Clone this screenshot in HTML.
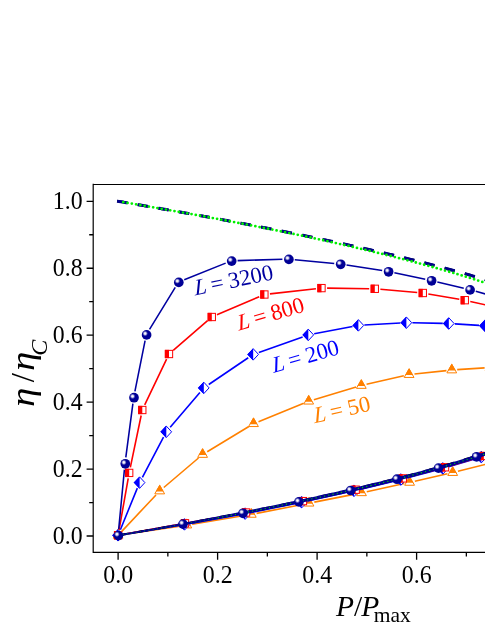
<!DOCTYPE html>
<html><head><meta charset="utf-8"><title>chart</title>
<style>html,body{margin:0;padding:0;background:#fff}body{width:485px;height:628px;position:relative;overflow:hidden;font-family:"Liberation Serif",serif}</style>
</head><body>
<svg width="485" height="628" viewBox="0 0 485 628" style="position:absolute;left:0;top:0;will-change:transform">
<defs><radialGradient id="bg" cx="0.5" cy="0.5" r="0.5"><stop offset="0" stop-color="#fff" stop-opacity="1"/><stop offset="0.35" stop-color="#fff" stop-opacity="0.9"/><stop offset="0.7" stop-color="#fff" stop-opacity="0.35"/><stop offset="1" stop-color="#fff" stop-opacity="0"/></radialGradient></defs>
<rect width="485" height="628" fill="#fff"/>
<path d="M121.8 531.36L156 494.94M163.81 487.5L198.49 458M207.22 451.7L248.88 426.5M258.5 421.66L303.7 403.24M313.87 399.66L356.13 387.04M366.56 384.3L403.84 375.8M414.47 374.02L446.43 370.58M457.19 369.65L484.61 367.85" stroke="#ff8000" stroke-width="1.6" fill="none"/>
<path d="M123.44 534.51L181.46 525.89M192.13 524.22L245.97 515.28M256.6 513.37L303.7 504.23M314.3 502.15L356.2 493.85M366.78 491.66L404.32 483.54M414.87 481.2L447.43 473.8M457.94 471.29L486.76 464.11" stroke="#ff8000" stroke-width="1.6" fill="none"/>
<path d="M159.7 485.3L164.6 493.85L154.8 493.85Z" fill="#fff" stroke="#ff8000" stroke-width="1" stroke-linejoin="miter"/><path d="M159.7 484.5L163.65 491.45L155.75 491.45Z" fill="#ff8000"/>
<path d="M202.6 448.8L207.5 457.35L197.7 457.35Z" fill="#fff" stroke="#ff8000" stroke-width="1" stroke-linejoin="miter"/><path d="M202.6 448L206.55 454.95L198.65 454.95Z" fill="#ff8000"/>
<path d="M253.5 418L258.4 426.55L248.6 426.55Z" fill="#fff" stroke="#ff8000" stroke-width="1" stroke-linejoin="miter"/><path d="M253.5 417.2L257.45 424.15L249.55 424.15Z" fill="#ff8000"/>
<path d="M308.7 395.5L313.6 404.05L303.8 404.05Z" fill="#fff" stroke="#ff8000" stroke-width="1" stroke-linejoin="miter"/><path d="M308.7 394.7L312.65 401.65L304.75 401.65Z" fill="#ff8000"/>
<path d="M361.3 379.8L366.2 388.35L356.4 388.35Z" fill="#fff" stroke="#ff8000" stroke-width="1" stroke-linejoin="miter"/><path d="M361.3 379L365.25 385.95L357.35 385.95Z" fill="#ff8000"/>
<path d="M409.1 368.9L414 377.45L404.2 377.45Z" fill="#fff" stroke="#ff8000" stroke-width="1" stroke-linejoin="miter"/><path d="M409.1 368.1L413.05 375.05L405.15 375.05Z" fill="#ff8000"/>
<path d="M451.8 364.3L456.7 372.85L446.9 372.85Z" fill="#fff" stroke="#ff8000" stroke-width="1" stroke-linejoin="miter"/><path d="M451.8 363.5L455.75 370.45L447.85 370.45Z" fill="#ff8000"/>
<path d="M490 361.8L494.9 370.35L485.1 370.35Z" fill="#fff" stroke="#ff8000" stroke-width="1" stroke-linejoin="miter"/><path d="M490 361L493.95 367.95L486.05 367.95Z" fill="#ff8000"/>
<path d="M186.8 519.4L191.7 527.95L181.9 527.95Z" fill="#fff" stroke="#ff8000" stroke-width="1" stroke-linejoin="miter"/><path d="M186.8 518.6L190.75 525.55L182.85 525.55Z" fill="#ff8000"/>
<path d="M251.3 508.7L256.2 517.25L246.4 517.25Z" fill="#fff" stroke="#ff8000" stroke-width="1" stroke-linejoin="miter"/><path d="M251.3 507.9L255.25 514.85L247.35 514.85Z" fill="#ff8000"/>
<path d="M309 497.5L313.9 506.05L304.1 506.05Z" fill="#fff" stroke="#ff8000" stroke-width="1" stroke-linejoin="miter"/><path d="M309 496.7L312.95 503.65L305.05 503.65Z" fill="#ff8000"/>
<path d="M361.5 487.1L366.4 495.65L356.6 495.65Z" fill="#fff" stroke="#ff8000" stroke-width="1" stroke-linejoin="miter"/><path d="M361.5 486.3L365.45 493.25L357.55 493.25Z" fill="#ff8000"/>
<path d="M409.6 476.7L414.5 485.25L404.7 485.25Z" fill="#fff" stroke="#ff8000" stroke-width="1" stroke-linejoin="miter"/><path d="M409.6 475.9L413.55 482.85L405.65 482.85Z" fill="#ff8000"/>
<path d="M452.7 466.9L457.6 475.45L447.8 475.45Z" fill="#fff" stroke="#ff8000" stroke-width="1" stroke-linejoin="miter"/><path d="M452.7 466.1L456.65 473.05L448.75 473.05Z" fill="#ff8000"/>
<path d="M492 457.1L496.9 465.65L487.1 465.65Z" fill="#fff" stroke="#ff8000" stroke-width="1" stroke-linejoin="miter"/><path d="M492 456.3L495.95 463.25L488.05 463.25Z" fill="#ff8000"/>
<path d="M118.1 529.6L123 538.15L113.2 538.15Z" fill="#fff" stroke="#ff8000" stroke-width="1" stroke-linejoin="miter"/><path d="M118.1 528.8L122.05 535.75L114.15 535.75Z" fill="#ff8000"/>
<path d="M120.37 529.74L137.33 488.16M142.39 477.29L163.51 437.11M170.2 427.24L199.9 392.46M208.77 384.53L248.23 357.77M258.86 352.4L302.64 336.9M314.19 333.78L352.51 326.52M364.39 325.06L400.41 323.04M412.4 322.81L442.8 323.39M454.79 323.88L479.01 325.42M490.97 326.44L509.03 328.36" stroke="#0000ff" stroke-width="1.6" fill="none"/>
<path d="M124.02 534.33L178.58 525.37M190.41 523.35L239.27 514.65M251.05 512.41L295.82 503.39M307.56 500.92L348.22 492.08M359.91 489.39L395.07 480.91M406.7 477.97L437.07 469.93M448.62 466.71L475.64 458.79M487.13 455.33L509.74 448.37" stroke="#0000ff" stroke-width="1.6" fill="none"/>
<path d="M118.1 529.6L123.4 535.3L118.1 541L112.8 535.3Z" fill="#fff" stroke="#0000ff" stroke-width="1"/><path d="M118.1 529.1L112.2 535.3L118.1 541.5Z" fill="#0000ff"/>
<path d="M139.6 476.9L144.9 482.6L139.6 488.3L134.3 482.6Z" fill="#fff" stroke="#0000ff" stroke-width="1"/><path d="M139.6 476.4L133.7 482.6L139.6 488.8Z" fill="#0000ff"/>
<path d="M166.3 426.1L171.6 431.8L166.3 437.5L161 431.8Z" fill="#fff" stroke="#0000ff" stroke-width="1"/><path d="M166.3 425.6L160.4 431.8L166.3 438Z" fill="#0000ff"/>
<path d="M203.8 382.2L209.1 387.9L203.8 393.6L198.5 387.9Z" fill="#fff" stroke="#0000ff" stroke-width="1"/><path d="M203.8 381.7L197.9 387.9L203.8 394.1Z" fill="#0000ff"/>
<path d="M253.2 348.7L258.5 354.4L253.2 360.1L247.9 354.4Z" fill="#fff" stroke="#0000ff" stroke-width="1"/><path d="M253.2 348.2L247.3 354.4L253.2 360.6Z" fill="#0000ff"/>
<path d="M308.3 329.2L313.6 334.9L308.3 340.6L303 334.9Z" fill="#fff" stroke="#0000ff" stroke-width="1"/><path d="M308.3 328.7L302.4 334.9L308.3 341.1Z" fill="#0000ff"/>
<path d="M358.4 319.7L363.7 325.4L358.4 331.1L353.1 325.4Z" fill="#fff" stroke="#0000ff" stroke-width="1"/><path d="M358.4 319.2L352.5 325.4L358.4 331.6Z" fill="#0000ff"/>
<path d="M406.4 317L411.7 322.7L406.4 328.4L401.1 322.7Z" fill="#fff" stroke="#0000ff" stroke-width="1"/><path d="M406.4 316.5L400.5 322.7L406.4 328.9Z" fill="#0000ff"/>
<path d="M448.8 317.8L454.1 323.5L448.8 329.2L443.5 323.5Z" fill="#fff" stroke="#0000ff" stroke-width="1"/><path d="M448.8 317.3L442.9 323.5L448.8 329.7Z" fill="#0000ff"/>
<path d="M485 320.1L490.3 325.8L485 331.5L479.7 325.8Z" fill="#fff" stroke="#0000ff" stroke-width="1"/><path d="M485 319.6L479.1 325.8L485 332Z" fill="#0000ff"/>
<path d="M184.5 518.7L189.8 524.4L184.5 530.1L179.2 524.4Z" fill="#fff" stroke="#0000ff" stroke-width="1"/><path d="M184.5 518.2L178.6 524.4L184.5 530.6Z" fill="#0000ff"/>
<path d="M245.17 507.9L250.47 513.6L245.17 519.3L239.87 513.6Z" fill="#fff" stroke="#0000ff" stroke-width="1"/><path d="M245.17 507.4L239.27 513.6L245.17 519.8Z" fill="#0000ff"/>
<path d="M301.7 496.5L307 502.2L301.7 507.9L296.4 502.2Z" fill="#fff" stroke="#0000ff" stroke-width="1"/><path d="M301.7 496L295.8 502.2L301.7 508.4Z" fill="#0000ff"/>
<path d="M354.08 485.1L359.38 490.8L354.08 496.5L348.78 490.8Z" fill="#fff" stroke="#0000ff" stroke-width="1"/><path d="M354.08 484.6L348.18 490.8L354.08 497Z" fill="#0000ff"/>
<path d="M400.9 473.8L406.2 479.5L400.9 485.2L395.6 479.5Z" fill="#fff" stroke="#0000ff" stroke-width="1"/><path d="M400.9 473.3L395 479.5L400.9 485.7Z" fill="#0000ff"/>
<path d="M442.87 462.7L448.17 468.4L442.87 474.1L437.57 468.4Z" fill="#fff" stroke="#0000ff" stroke-width="1"/><path d="M442.87 462.2L436.97 468.4L442.87 474.6Z" fill="#0000ff"/>
<path d="M481.39 451.4L486.69 457.1L481.39 462.8L476.09 457.1Z" fill="#fff" stroke="#0000ff" stroke-width="1"/><path d="M481.39 450.9L475.49 457.1L481.39 463.3Z" fill="#0000ff"/>
<path d="M119.08 529.79L128.22 478.41M130.34 467.42L141.16 415.48M144.71 404.95L166.59 359.05M173.24 350.34L207.56 320.66M216.95 314.8L259.25 296.7M269.97 293.88L315.93 288.72M327.1 288.17L369.2 288.73M380.38 289.29L417.22 292.51M428.32 293.95L459.28 299.25M470.27 301.42L496.53 307.28" stroke="#ff0000" stroke-width="1.6" fill="none"/>
<path d="M123.61 534.31L179.49 524.29M190.51 522.32L240.55 513.48M251.56 511.4L297.47 502.2M308.43 499.92L350.2 490.88M361.12 488.39L397.35 479.71M408.22 476.98L439.62 468.72M450.41 465.73L478.44 457.57M489.17 454.36L512.76 447.14" stroke="#ff0000" stroke-width="1.6" fill="none"/>
<rect x="114.45" y="531.65" width="7.3" height="7.3" fill="#fff" stroke="#ff0000" stroke-width="1"/><rect x="113.95" y="531.15" width="4.15" height="8.3" fill="#ff0000"/>
<rect x="125.55" y="469.25" width="7.3" height="7.3" fill="#fff" stroke="#ff0000" stroke-width="1"/><rect x="125.05" y="468.75" width="4.15" height="8.3" fill="#ff0000"/>
<rect x="138.65" y="406.35" width="7.3" height="7.3" fill="#fff" stroke="#ff0000" stroke-width="1"/><rect x="138.15" y="405.85" width="4.15" height="8.3" fill="#ff0000"/>
<rect x="165.35" y="350.35" width="7.3" height="7.3" fill="#fff" stroke="#ff0000" stroke-width="1"/><rect x="164.85" y="349.85" width="4.15" height="8.3" fill="#ff0000"/>
<rect x="208.15" y="313.35" width="7.3" height="7.3" fill="#fff" stroke="#ff0000" stroke-width="1"/><rect x="207.65" y="312.85" width="4.15" height="8.3" fill="#ff0000"/>
<rect x="260.75" y="290.85" width="7.3" height="7.3" fill="#fff" stroke="#ff0000" stroke-width="1"/><rect x="260.25" y="290.35" width="4.15" height="8.3" fill="#ff0000"/>
<rect x="317.85" y="284.45" width="7.3" height="7.3" fill="#fff" stroke="#ff0000" stroke-width="1"/><rect x="317.35" y="283.95" width="4.15" height="8.3" fill="#ff0000"/>
<rect x="371.15" y="285.15" width="7.3" height="7.3" fill="#fff" stroke="#ff0000" stroke-width="1"/><rect x="370.65" y="284.65" width="4.15" height="8.3" fill="#ff0000"/>
<rect x="419.15" y="289.35" width="7.3" height="7.3" fill="#fff" stroke="#ff0000" stroke-width="1"/><rect x="418.65" y="288.85" width="4.15" height="8.3" fill="#ff0000"/>
<rect x="461.15" y="296.55" width="7.3" height="7.3" fill="#fff" stroke="#ff0000" stroke-width="1"/><rect x="460.65" y="296.05" width="4.15" height="8.3" fill="#ff0000"/>
<rect x="181.35" y="519.65" width="7.3" height="7.3" fill="#fff" stroke="#ff0000" stroke-width="1"/><rect x="180.85" y="519.15" width="4.15" height="8.3" fill="#ff0000"/>
<rect x="242.41" y="508.85" width="7.3" height="7.3" fill="#fff" stroke="#ff0000" stroke-width="1"/><rect x="241.91" y="508.35" width="4.15" height="8.3" fill="#ff0000"/>
<rect x="299.31" y="497.45" width="7.3" height="7.3" fill="#fff" stroke="#ff0000" stroke-width="1"/><rect x="298.81" y="496.95" width="4.15" height="8.3" fill="#ff0000"/>
<rect x="352.03" y="486.05" width="7.3" height="7.3" fill="#fff" stroke="#ff0000" stroke-width="1"/><rect x="351.53" y="485.55" width="4.15" height="8.3" fill="#ff0000"/>
<rect x="399.15" y="474.75" width="7.3" height="7.3" fill="#fff" stroke="#ff0000" stroke-width="1"/><rect x="398.65" y="474.25" width="4.15" height="8.3" fill="#ff0000"/>
<rect x="441.39" y="463.65" width="7.3" height="7.3" fill="#fff" stroke="#ff0000" stroke-width="1"/><rect x="440.89" y="463.15" width="4.15" height="8.3" fill="#ff0000"/>
<rect x="480.16" y="452.35" width="7.3" height="7.3" fill="#fff" stroke="#ff0000" stroke-width="1"/><rect x="479.66" y="451.85" width="4.15" height="8.3" fill="#ff0000"/>
<path d="M117.1 201.13L119 201.45L120.9 201.77L122.79 202.09L124.69 202.41L126.58 202.73L128.48 203.05L130.37 203.37L132.27 203.7L134.16 204.02L136.06 204.34L137.96 204.67L139.85 204.99L141.75 205.31L143.64 205.64L145.54 205.97L147.43 206.29L149.33 206.62L151.22 206.95L153.12 207.28L155.01 207.61L156.91 207.94L158.81 208.27L160.7 208.6L162.6 208.93L164.49 209.26L166.39 209.59L168.28 209.93L170.18 210.26L172.07 210.6L173.97 210.93L175.86 211.27L177.76 211.6L179.66 211.94L181.55 212.28L183.45 212.61L185.34 212.95L187.24 213.29L189.13 213.63L191.03 213.97L192.92 214.31L194.82 214.66L196.71 215L198.61 215.34L200.51 215.69L202.4 216.03L204.3 216.37L206.19 216.72L208.09 217.07L209.98 217.41L211.88 217.76L213.77 218.11L215.67 218.46L217.57 218.81L219.46 219.16L221.36 219.51L223.25 219.86L225.15 220.21L227.04 220.57L228.94 220.92L230.83 221.27L232.73 221.63L234.62 221.99L236.52 222.34L238.42 222.7L240.31 223.06L242.21 223.42L244.1 223.78L246 224.14L247.89 224.5L249.79 224.86L251.68 225.22L253.58 225.59L255.47 225.95L257.37 226.32L259.27 226.68L261.16 227.05L263.06 227.42L264.95 227.78L266.85 228.15L268.74 228.52L270.64 228.89L272.53 229.27L274.43 229.64L276.32 230.01L278.22 230.39L280.12 230.76L282.01 231.14L283.91 231.51L285.8 231.89L287.7 232.27L289.59 232.65L291.49 233.03L293.38 233.41L295.28 233.79L297.18 234.18L299.07 234.56L300.97 234.95L302.86 235.33L304.76 235.72L306.65 236.11L308.55 236.5L310.44 236.89L312.34 237.28L314.23 237.67L316.13 238.06L318.03 238.46L319.92 238.85L321.82 239.25L323.71 239.65L325.61 240.05L327.5 240.45L329.4 240.85L331.29 241.25L333.19 241.65L335.08 242.06L336.98 242.46L338.88 242.87L340.77 243.28L342.67 243.69L344.56 244.1L346.46 244.51L348.35 244.92L350.25 245.34L352.14 245.75L354.04 246.17L355.93 246.59L357.83 247.01L359.73 247.43L361.62 247.85L363.52 248.28L365.41 248.7L367.31 249.13L369.2 249.56L371.1 249.99L372.99 250.42L374.89 250.85L376.79 251.29L378.68 251.72L380.58 252.16L382.47 252.6L384.37 253.04L386.26 253.48L388.16 253.92L390.05 254.37L391.95 254.82L393.84 255.27L395.74 255.72L397.64 256.17L399.53 256.62L401.43 257.08L403.32 257.54L405.22 258L407.11 258.46L409.01 258.92L410.9 259.39L412.8 259.86L414.69 260.33L416.59 260.8L418.49 261.27L420.38 261.75L422.28 262.23L424.17 262.71L426.07 263.19L427.96 263.68L429.86 264.17L431.75 264.66L433.65 265.15L435.54 265.64L437.44 266.14L439.34 266.64L441.23 267.14L443.13 267.65L445.02 268.15L446.92 268.66L448.81 269.18L450.71 269.69L452.6 270.21L454.5 270.73L456.4 271.26L458.29 271.79L460.19 272.32L462.08 272.85L463.98 273.39L465.87 273.93L467.77 274.47L469.66 275.02L471.56 275.57L473.45 276.13L475.35 276.68L477.25 277.25L479.14 277.81L481.04 278.38L482.93 278.95L484.83 279.53L486.72 280.11L488.62 280.7L490.51 281.29L492.41 281.89L494.3 282.49L496.2 283.09" stroke="#000" stroke-width="2.6" fill="none" stroke-dasharray="10.5 10.4"/>
<path d="M117.1 535.57L119 535.25L120.9 534.92L122.79 534.6L124.69 534.27L126.58 533.95L128.48 533.62L130.37 533.29L132.27 532.97L134.16 532.64L136.06 532.31L137.96 531.98L139.85 531.65L141.75 531.32L143.64 530.99L145.54 530.65L147.43 530.32L149.33 529.99L151.22 529.65L153.12 529.32L155.01 528.98L156.91 528.65L158.81 528.31L160.7 527.97L162.6 527.64L164.49 527.3L166.39 526.96L168.28 526.62L170.18 526.28L172.07 525.93L173.97 525.59L175.86 525.25L177.76 524.9L179.66 524.56L181.55 524.21L183.45 523.87L185.34 523.52L187.24 523.17L189.13 522.82L191.03 522.48L192.92 522.13L194.82 521.77L196.71 521.42L198.61 521.07L200.51 520.72L202.4 520.36L204.3 520.01L206.19 519.65L208.09 519.3L209.98 518.94L211.88 518.58L213.77 518.22L215.67 517.86L217.57 517.5L219.46 517.14L221.36 516.78L223.25 516.42L225.15 516.05L227.04 515.69L228.94 515.32L230.83 514.96L232.73 514.59L234.62 514.22L236.52 513.85L238.42 513.48L240.31 513.11L242.21 512.74L244.1 512.37L246 511.99L247.89 511.62L249.79 511.24L251.68 510.86L253.58 510.49L255.47 510.11L257.37 509.73L259.27 509.35L261.16 508.97L263.06 508.58L264.95 508.2L266.85 507.82L268.74 507.43L270.64 507.04L272.53 506.66L274.43 506.27L276.32 505.88L278.22 505.49L280.12 505.09L282.01 504.7L283.91 504.31L285.8 503.91L287.7 503.51L289.59 503.12L291.49 502.72L293.38 502.32L295.28 501.92L297.18 501.51L299.07 501.11L300.97 500.71L302.86 500.3L304.76 499.89L306.65 499.48L308.55 499.08L310.44 498.66L312.34 498.25L314.23 497.84L316.13 497.42L318.03 497.01L319.92 496.59L321.82 496.17L323.71 495.75L325.61 495.33L327.5 494.91L329.4 494.49L331.29 494.06L333.19 493.63L335.08 493.2L336.98 492.78L338.88 492.34L340.77 491.91L342.67 491.48L344.56 491.04L346.46 490.61L348.35 490.17L350.25 489.73L352.14 489.29L354.04 488.84L355.93 488.4L357.83 487.95L359.73 487.5L361.62 487.05L363.52 486.6L365.41 486.15L367.31 485.69L369.2 485.24L371.1 484.78L372.99 484.32L374.89 483.86L376.79 483.39L378.68 482.93L380.58 482.46L382.47 481.99L384.37 481.52L386.26 481.05L388.16 480.57L390.05 480.1L391.95 479.62L393.84 479.14L395.74 478.66L397.64 478.17L399.53 477.68L401.43 477.19L403.32 476.7L405.22 476.21L407.11 475.71L409.01 475.22L410.9 474.72L412.8 474.21L414.69 473.71L416.59 473.2L418.49 472.69L420.38 472.18L422.28 471.67L424.17 471.15L426.07 470.63L427.96 470.11L429.86 469.58L431.75 469.06L433.65 468.53L435.54 467.99L437.44 467.46L439.34 466.92L441.23 466.38L443.13 465.84L445.02 465.29L446.92 464.74L448.81 464.18L450.71 463.63L452.6 463.07L454.5 462.51L456.4 461.94L458.29 461.37L460.19 460.8L462.08 460.22L463.98 459.64L465.87 459.06L467.77 458.47L469.66 457.88L471.56 457.29L473.45 456.69L475.35 456.09L477.25 455.48L479.14 454.87L481.04 454.25L482.93 453.63L484.83 453.01L486.72 452.38L488.62 451.75L490.51 451.11L492.41 450.47L494.3 449.82L496.2 449.17" stroke="#000" stroke-width="2.0" fill="none" stroke-dasharray="10.5 10.4"/>
<path d="M117.1 201.13L119 201.45L120.9 201.77L122.79 202.09L124.69 202.41L126.58 202.73L128.48 203.05L130.37 203.37L132.27 203.7L134.16 204.02L136.06 204.34L137.96 204.67L139.85 204.99L141.75 205.31L143.64 205.64L145.54 205.97L147.43 206.29L149.33 206.62L151.22 206.95L153.12 207.28L155.01 207.61L156.91 207.94L158.81 208.27L160.7 208.6L162.6 208.93L164.49 209.26L166.39 209.59L168.28 209.93L170.18 210.26L172.07 210.6L173.97 210.93L175.86 211.27L177.76 211.6L179.66 211.94L181.55 212.28L183.45 212.61L185.34 212.95L187.24 213.29L189.13 213.63L191.03 213.97L192.92 214.31L194.82 214.66L196.71 215L198.61 215.34L200.51 215.69L202.4 216.03L204.3 216.37L206.19 216.72L208.09 217.07L209.98 217.41L211.88 217.76L213.77 218.11L215.67 218.46L217.57 218.81L219.46 219.16L221.36 219.51L223.25 219.86L225.15 220.21L227.04 220.57L228.94 220.92L230.83 221.27L232.73 221.63L234.62 221.99L236.52 222.34L238.42 222.7L240.31 223.06L242.21 223.42L244.1 223.78L246 224.14L247.89 224.5L249.79 224.86L251.68 225.22L253.58 225.59L255.47 225.95L257.37 226.32L259.27 226.68L261.16 227.05L263.06 227.42L264.95 227.78L266.85 228.15L268.74 228.52L270.64 228.89L272.53 229.27L274.43 229.64L276.32 230.01L278.22 230.39L280.12 230.76L282.01 231.14L283.91 231.51L285.8 231.89L287.7 232.27L289.59 232.65L291.49 233.03L293.38 233.41L295.28 233.79L297.18 234.18L299.07 234.56L300.97 234.95L302.86 235.33L304.76 235.72L306.65 236.11L308.55 236.5L310.44 236.89L312.34 237.28L314.23 237.67L316.13 238.06L318.03 238.46L319.92 238.85L321.82 239.25L323.71 239.65L325.61 240.05L327.5 240.45L329.4 240.85L331.29 241.25L333.19 241.65L335.08 242.06L336.98 242.46L338.88 242.87L340.77 243.28L342.67 243.69L344.56 244.1L346.46 244.51L348.35 244.92L350.25 245.34L352.14 245.75L354.04 246.17L355.93 246.59L357.83 247.01L359.73 247.43L361.62 247.85L363.52 248.28L365.41 248.7L367.31 249.13L369.2 249.56L371.1 249.99L372.99 250.42L374.89 250.85L376.79 251.29L378.68 251.72L380.58 252.16L382.47 252.6L384.37 253.04L386.26 253.48L388.16 253.92L390.05 254.37L391.95 254.82L393.84 255.27L395.74 255.72L397.64 256.17L399.53 256.62L401.43 257.08L403.32 257.54L405.22 258L407.11 258.46L409.01 258.92L410.9 259.39L412.8 259.86L414.69 260.33L416.59 260.8L418.49 261.27L420.38 261.75L422.28 262.23L424.17 262.71L426.07 263.19L427.96 263.68L429.86 264.17L431.75 264.66L433.65 265.15L435.54 265.64L437.44 266.14L439.34 266.64L441.23 267.14L443.13 267.65L445.02 268.15L446.92 268.66L448.81 269.18L450.71 269.69L452.6 270.21L454.5 270.73L456.4 271.26L458.29 271.79L460.19 272.32L462.08 272.85L463.98 273.39L465.87 273.93L467.77 274.47L469.66 275.02L471.56 275.57L473.45 276.13L475.35 276.68L477.25 277.25L479.14 277.81L481.04 278.38L482.93 278.95L484.83 279.53L486.72 280.11L488.62 280.7L490.51 281.29L492.41 281.89L494.3 282.49L496.2 283.09" stroke="#00008c" stroke-width="3.0" fill="none" stroke-dasharray="10.5 10.4"/>
<path d="M118.1 534.42L120.46 534.02L122.83 533.61L125.19 533.2L127.55 532.79L129.92 532.38L132.28 531.97L134.64 531.56L137 531.15L139.37 530.73L141.73 530.32L144.09 529.9L146.46 529.49L148.82 529.07L151.18 528.65L153.55 528.23L155.91 527.81L158.27 527.39L160.64 526.96L163 526.54L165.36 526.11L167.73 525.69L170.09 525.26L172.45 524.83L174.81 524.4L177.18 523.97L179.54 523.54L181.9 523.11L184.27 522.67L186.63 522.24L188.99 521.8L191.36 521.36L193.72 520.92L196.08 520.48L198.45 520.04L200.81 519.6L203.17 519.16L205.54 518.71L207.9 518.27L210.26 517.82L212.62 517.37L214.99 516.92L217.35 516.47L219.71 516.01L222.08 515.56L224.44 515.1L226.8 514.65L229.17 514.19L231.53 513.73L233.89 513.27L236.26 512.81L238.62 512.34L240.98 511.88L243.35 511.41L245.71 510.94L248.07 510.47L250.44 510L252.8 509.53L255.16 509.06L257.52 508.58L259.89 508.1L262.25 507.62L264.61 507.14L266.98 506.66L269.34 506.18L271.7 505.69L274.07 505.21L276.43 504.72L278.79 504.23L281.16 503.74L283.52 503.24L285.88 502.75L288.25 502.25L290.61 501.75L292.97 501.25L295.33 500.75L297.7 500.25L300.06 499.74L302.42 499.23L304.79 498.72L307.15 498.21L309.51 497.7L311.88 497.18L314.24 496.66L316.6 496.15L318.97 495.62L321.33 495.1L323.69 494.57L326.05 494.05L328.42 493.52L330.78 492.98L333.14 492.45L335.51 491.91L337.87 491.38L340.23 490.84L342.6 490.29L344.96 489.76L347.32 489.22L349.69 488.68L352.05 488.13L354.41 487.59L356.78 487.04L359.14 486.49L361.5 485.93L363.87 485.38L366.23 484.82L368.59 484.26L370.95 483.69L373.32 483.12L375.68 482.55L378.04 481.98L380.41 481.41L382.77 480.83L385.13 480.25L387.5 479.66L389.86 479.07L392.22 478.48L394.59 477.89L396.95 477.29L399.31 476.69L401.68 476.09L404.04 475.48L406.4 474.87L408.76 474.26L411.13 473.64L413.49 473.02L415.85 472.4L418.22 471.77L420.58 471.14L422.94 470.5L425.31 469.86L427.67 469.22L430.03 468.57L432.4 467.92L434.76 467.26L437.12 466.6L439.49 465.94L441.85 465.27L444.21 464.6L446.57 463.92L448.94 463.23L451.3 462.55L453.66 461.85L456.03 461.16L458.39 460.45L460.75 459.74L463.12 459.03L465.48 458.31L467.84 457.59L470.21 456.85L472.57 456.12L474.93 455.38L477.29 454.63L479.66 453.87L482.02 453.11L484.38 452.34L486.75 451.56L489.11 450.78L491.47 449.99L493.84 449.19L496.2 448.38L496.2 451.99L493.84 452.8L491.47 453.59L489.11 454.38L486.75 455.17L484.38 455.94L482.02 456.71L479.66 457.48L477.29 458.23L474.93 458.98L472.57 459.72L470.21 460.46L467.84 461.19L465.48 461.92L463.12 462.64L460.75 463.35L458.39 464.06L456.03 464.76L453.66 465.46L451.3 466.15L448.94 466.84L446.57 467.52L444.21 468.2L441.85 468.87L439.49 469.54L437.12 470.21L434.76 470.87L432.4 471.52L430.03 472.18L427.67 472.82L425.31 473.47L422.94 474.11L420.58 474.74L418.22 475.37L415.85 476L413.49 476.63L411.13 477.25L408.76 477.86L406.4 478.48L404.04 479.09L401.68 479.69L399.31 480.3L396.95 480.9L394.59 481.49L392.22 482.09L389.86 482.68L387.5 483.27L385.13 483.85L382.77 484.43L380.41 485.01L378.04 485.59L375.68 486.16L373.32 486.73L370.95 487.3L368.59 487.86L366.23 488.42L363.87 488.98L361.5 489.54L359.14 490.09L356.78 490.64L354.41 491.19L352.05 491.74L349.69 492.28L347.32 492.82L344.96 493.36L342.6 493.9L340.23 494.43L337.87 494.95L335.51 495.47L333.14 495.99L330.78 496.51L328.42 497.02L326.05 497.53L323.69 498.04L321.33 498.55L318.97 499.06L316.6 499.56L314.24 500.07L311.88 500.57L309.51 501.06L307.15 501.56L304.79 502.05L302.42 502.55L300.06 503.04L297.7 503.53L295.33 504.01L292.97 504.5L290.61 504.98L288.25 505.46L285.88 505.94L283.52 506.42L281.16 506.89L278.79 507.37L276.43 507.84L274.07 508.31L271.7 508.78L269.34 509.25L266.98 509.72L264.61 510.18L262.25 510.64L259.89 511.1L257.52 511.56L255.16 512.02L252.8 512.48L250.44 512.93L248.07 513.39L245.71 513.84L243.35 514.29L240.98 514.74L238.62 515.19L236.26 515.63L233.89 516.08L231.53 516.52L229.17 516.96L226.8 517.4L224.44 517.84L222.08 518.28L219.71 518.72L217.35 519.15L214.99 519.59L212.62 520.02L210.26 520.45L207.9 520.88L205.54 521.31L203.17 521.74L200.81 522.17L198.45 522.59L196.08 523.02L193.72 523.44L191.36 523.86L188.99 524.28L186.63 524.7L184.27 525.12L181.9 525.53L179.54 525.95L177.18 526.36L174.81 526.78L172.45 527.19L170.09 527.6L167.73 528.01L165.36 528.42L163 528.83L160.64 529.23L158.27 529.64L155.91 530.04L153.55 530.45L151.18 530.85L148.82 531.25L146.46 531.65L144.09 532.05L141.73 532.45L139.37 532.85L137 533.24L134.64 533.64L132.28 534.03L129.92 534.43L127.55 534.82L125.19 535.21L122.83 535.6L120.46 535.99L118.1 536.38Z" fill="#000090"/>
<path d="M122.5 202.04L124.37 202.36L126.23 202.67L128.1 202.99L129.97 203.31L131.84 203.62L133.71 203.94L135.58 204.26L137.45 204.58L139.31 204.9L141.18 205.22L143.05 205.54L144.92 205.87L146.79 206.19L148.66 206.51L150.53 206.84L152.39 207.16L154.26 207.49L156.13 207.81L158 208.14L159.87 208.47L161.74 208.79L163.61 209.12L165.47 209.45L167.34 209.78L169.21 210.11L171.08 210.44L172.95 210.78L174.82 211.11L176.68 211.44L178.55 211.78L180.42 212.11L182.29 212.45L184.16 212.79L186.03 213.12L187.9 213.46L189.76 213.8L191.63 214.14L193.5 214.48L195.37 214.82L197.24 215.16L199.11 215.5L200.98 215.85L202.84 216.19L204.71 216.54L206.58 216.88L208.45 217.23L210.32 217.58L212.19 217.92L214.05 218.27L215.92 218.62L217.79 218.97L219.66 219.32L221.53 219.68L223.4 220.03L225.27 220.38L227.13 220.74L229 221.09L230.87 221.45L232.74 221.81L234.61 222.16L236.48 222.52L238.35 222.88L240.21 223.24L242.08 223.6L243.95 223.97L245.82 224.33L247.69 224.69L249.56 225.06L251.43 225.43L253.29 225.79L255.16 226.16L257.03 226.53L258.9 226.9L260.77 227.27L262.64 227.64L264.5 228.02L266.37 228.39L268.24 228.76L270.11 229.14L271.98 229.52L273.85 229.9L275.72 230.27L277.58 230.65L279.45 231.04L281.32 231.42L283.19 231.8L285.06 232.19L286.93 232.57L288.8 232.96L290.66 233.35L292.53 233.73L294.4 234.12L296.27 234.51L298.14 234.91L300.01 235.3L301.87 235.69L303.74 236.09L305.61 236.49L307.48 236.89L309.35 237.28L311.22 237.68L313.09 238.09L314.95 238.49L316.82 238.89L318.69 239.3L320.56 239.71L322.43 240.11L324.3 240.52L326.17 240.93L328.03 241.35L329.9 241.76L331.77 242.17L333.64 242.59L335.51 243.01L337.38 243.43L339.25 243.85L341.11 244.27L342.98 244.69L344.85 245.12L346.72 245.54L348.59 245.97L350.46 246.4L352.32 246.83L354.19 247.26L356.06 247.69L357.93 248.13L359.8 248.57L361.67 249L363.54 249.44L365.4 249.89L367.27 250.33L369.14 250.77L371.01 251.22L372.88 251.67L374.75 252.12L376.62 252.57L378.48 253.02L380.35 253.48L382.22 253.94L384.09 254.39L385.96 254.86L387.83 255.32L389.69 255.78L391.56 256.25L393.43 256.72L395.3 257.19L397.17 257.66L399.04 258.13L400.91 258.61L402.77 259.09L404.64 259.57L406.51 260.05L408.38 260.54L410.25 261.03L412.12 261.51L413.99 262.01L415.85 262.5L417.72 263L419.59 263.5L421.46 264L423.33 264.5L425.2 265.01L427.07 265.51L428.93 266.02L430.8 266.54L432.67 267.05L434.54 267.57L436.41 268.09L438.28 268.62L440.14 269.15L442.01 269.67L443.88 270.21L445.75 270.74L447.62 271.28L449.49 271.82L451.36 272.37L453.22 272.91L455.09 273.47L456.96 274.02L458.83 274.58L460.7 275.14L462.57 275.7L464.44 276.27L466.3 276.84L468.17 277.41L470.04 277.99L471.91 278.57L473.78 279.16L475.65 279.75L477.51 280.34L479.38 280.94L481.25 281.54L483.12 282.15L484.99 282.76L486.86 283.37L488.73 283.99L490.59 284.61L492.46 285.24L494.33 285.87L496.2 286.51" stroke="#00f000" stroke-width="2.8" fill="none" stroke-linecap="round" stroke-dasharray="0 4.33" stroke-dashoffset="-0.8"/>
<path d="M118.1 535.4L118.6 535.32L119.09 535.23L119.59 535.15L120.09 535.07L120.59 534.98L121.08 534.9L121.58 534.81L122.08 534.73L122.58 534.65L123.07 534.56L123.57 534.48L124.07 534.39L124.57 534.31L125.06 534.23L125.56 534.14L126.06 534.06L126.56 533.97L127.05 533.89L127.55 533.81L128.05 533.72L128.55 533.64L129.04 533.55L129.54 533.47L130.04 533.38L130.54 533.3L131.03 533.21L131.53 533.13L132.03 533.04L132.53 532.96L133.03 532.88L133.52 532.79L134.02 532.71L134.52 532.62L135.01 532.54L135.51 532.45L136.01 532.37L136.51 532.28L137 532.2L137.5 532.11L138 532.02L138.5 531.94L139 531.85L139.49 531.77L139.99 531.68L140.49 531.6L140.98 531.51L141.48 531.43L141.98 531.34L142.48 531.26L142.97 531.17L143.47 531.08L143.97 531L144.47 530.91L144.97 530.83L145.46 530.74L145.96 530.66L146.46 530.57L146.95 530.48L147.45 530.4L147.95 530.31L148.45 530.22L148.94 530.14L149.44 530.05L149.94 529.97L150.44 529.88L150.94 529.79L151.43 529.71L151.93 529.62L152.43 529.53L152.93 529.45L153.42 529.36L153.92 529.27L154.42 529.19L154.91 529.1L155.41 529.01L155.91 528.93L156.41 528.84L156.91 528.75L157.4 528.67L157.9 528.58L158.4 528.49L158.9 528.4L159.39 528.32L159.89 528.23L160.39 528.14L160.88 528.06L161.38 527.97L161.88 527.88L162.38 527.79L162.88 527.71L163.37 527.62L163.87 527.53L164.37 527.44L164.87 527.35L165.36 527.27L165.86 527.18L166.36 527.09L166.85 527L167.35 526.92L167.85 526.83L168.35 526.74L168.84 526.65L169.34 526.56L169.84 526.47L170.34 526.39L170.84 526.3L171.33 526.21L171.83 526.12L172.33 526.03L172.82 525.94L173.32 525.86L173.82 525.77L174.32 525.68L174.81 525.59L175.31 525.5L175.81 525.41L176.31 525.32L176.81 525.23L177.3 525.15L177.8 525.06L178.3 524.97L178.8 524.88L179.29 524.79L179.79 524.7L180.29 524.61L180.78 524.52L181.28 524.43L181.78 524.34L182.28 524.25L182.77 524.16L183.27 524.07L183.77 523.98L184.27 523.89L184.76 523.81L185.26 523.72L185.76 523.63L186.26 523.54L186.75 523.45L187.25 523.36L187.75 523.27L188.25 523.18L188.75 523.09L189.24 523L189.74 522.91L190.24 522.81L190.74 522.72L191.23 522.63L191.73 522.54L192.23 522.45L192.72 522.36L193.22 522.27L193.72 522.18L194.22 522.09L194.71 522L195.21 521.91L195.71 521.82L196.21 521.73L196.7 521.64L197.2 521.54L197.7 521.45L198.2 521.36L198.69 521.27L199.19 521.18L199.69 521.09L200.19 521L200.69 520.91L201.18 520.81L201.68 520.72L202.18 520.63L202.68 520.54L203.17 520.45L203.67 520.36L204.17 520.26L204.67 520.17L205.16 520.08L205.66 519.99L206.16 519.9L206.66 519.8L207.15 519.71L207.65 519.62L208.15 519.53L208.64 519.44L209.14 519.34L209.64 519.25L210.14 519.16L210.63 519.07L211.13 518.97L211.63 518.88L212.13 518.79L212.62 518.69L213.12 518.6L213.62 518.51L214.12 518.42L214.62 518.32L215.11 518.23L215.61 518.14L216.11 518.04L216.61 517.95L217.1 517.86L217.6 517.76" stroke="#00c800" stroke-width="0.8" fill="none" stroke-linecap="round" stroke-dasharray="0 4.33" stroke-dashoffset="-0.9"/>
<path d="M217.6 517.76L218.99 517.5L220.39 517.24L221.78 516.98L223.17 516.71L224.56 516.45L225.96 516.19L227.35 515.92L228.74 515.66L230.14 515.39L231.53 515.13L232.92 514.86L234.32 514.59L235.71 514.33L237.1 514.06L238.5 513.79L239.89 513.52L241.28 513.25L242.67 512.98L244.07 512.71L245.46 512.44L246.85 512.17L248.25 511.9L249.64 511.62L251.03 511.35L252.43 511.08L253.82 510.8L255.21 510.53L256.6 510.25L258 509.98L259.39 509.7L260.78 509.43L262.18 509.15L263.57 508.87L264.96 508.59L266.36 508.31L267.75 508.03L269.14 507.75L270.53 507.47L271.93 507.19L273.32 506.91L274.71 506.63L276.11 506.35L277.5 506.06L278.89 505.78L280.28 505.49L281.68 505.21L283.07 504.92L284.46 504.64L285.86 504.35L287.25 504.06L288.64 503.77L290.04 503.49L291.43 503.2L292.82 502.91L294.22 502.61L295.61 502.32L297 502.03L298.39 501.74L299.79 501.45L301.18 501.15L302.57 500.86L303.97 500.56L305.36 500.27L306.75 499.97L308.14 499.67L309.54 499.38L310.93 499.08L312.32 498.78L313.72 498.48L315.11 498.18L316.5 497.88L317.9 497.57L319.29 497.27L320.68 496.97L322.08 496.66L323.47 496.36L324.86 496.05L326.25 495.75L327.65 495.44L329.04 495.13L330.43 494.82L331.83 494.51L333.22 494.2L334.61 493.89L336 493.58L337.4 493.27L338.79 492.96L340.18 492.64L341.58 492.33L342.97 492.01L344.36 491.7L345.76 491.38L347.15 491.06L348.54 490.74L349.94 490.42L351.33 490.1L352.72 489.78L354.11 489.46L355.51 489.14L356.9 488.81L358.29 488.49L359.69 488.16L361.08 487.83L362.47 487.51L363.87 487.18L365.26 486.85L366.65 486.52L368.04 486.19L369.44 485.86L370.83 485.52L372.22 485.19L373.62 484.85L375.01 484.52L376.4 484.18L377.79 483.84L379.19 483.51L380.58 483.17L381.97 482.82L383.37 482.48L384.76 482.14L386.15 481.8L387.55 481.45L388.94 481.11L390.33 480.76L391.73 480.41L393.12 480.06L394.51 479.71L395.9 479.36L397.3 479.01L398.69 478.65L400.08 478.3L401.48 477.94L402.87 477.59L404.26 477.23L405.65 476.87L407.05 476.51L408.44 476.15L409.83 475.78L411.23 475.42L412.62 475.05L414.01 474.69L415.41 474.32L416.8 473.95L418.19 473.58L419.59 473.21L420.98 472.83L422.37 472.46L423.76 472.08L425.16 471.71L426.55 471.33L427.94 470.95L429.34 470.56L430.73 470.18L432.12 469.8L433.52 469.41L434.91 469.02L436.3 468.64L437.69 468.25L439.09 467.85L440.48 467.46L441.87 467.07L443.27 466.67L444.66 466.27L446.05 465.87L447.45 465.47L448.84 465.07L450.23 464.66L451.62 464.25L453.02 463.85L454.41 463.44L455.8 463.02L457.2 462.61L458.59 462.2L459.98 461.78L461.38 461.36L462.77 460.94L464.16 460.52L465.55 460.09L466.95 459.66L468.34 459.24L469.73 458.8L471.13 458.37L472.52 457.94L473.91 457.5L475.3 457.06L476.7 456.62L478.09 456.17L479.48 455.73L480.88 455.28L482.27 454.83L483.66 454.38L485.06 453.92L486.45 453.46L487.84 453L489.24 452.54L490.63 452.08L492.02 451.61L493.41 451.14L494.81 450.66L496.2 450.19" stroke="#00d800" stroke-width="1.3" fill="none" stroke-linecap="round" stroke-dasharray="0 4.33" stroke-dashoffset="-0.9"/>
<path d="M118.69 529.13L124.41 469.67M125.81 457.35L132.89 403.55M134.92 391.32L145.08 340.68M149.54 329.31L175.26 287.39M184.25 279.78L225.65 263.12M237.6 260.62L282.4 259.28M294.77 259.68L334.23 263.42M346.53 264.96L382.17 270.54M394.37 272.77L425.23 279.23M437.33 281.93L463.77 288.17M475.77 291.28L499.03 297.82" stroke="#0000a0" stroke-width="1.55" fill="none"/>
<circle cx="118.4" cy="535.6" r="4.85" fill="#000096"/><circle cx="116.95" cy="534.2" r="2.8" fill="url(#bg)"/>
<circle cx="125.3" cy="463.8" r="4.85" fill="#000096"/><circle cx="123.85" cy="462.4" r="2.8" fill="url(#bg)"/>
<circle cx="134" cy="397.7" r="4.85" fill="#000096"/><circle cx="132.55" cy="396.3" r="2.8" fill="url(#bg)"/>
<circle cx="146.6" cy="334.9" r="4.85" fill="#000096"/><circle cx="145.15" cy="333.5" r="2.8" fill="url(#bg)"/>
<circle cx="178.8" cy="282.4" r="4.85" fill="#000096"/><circle cx="177.35" cy="281" r="2.8" fill="url(#bg)"/>
<circle cx="231.7" cy="261.1" r="4.85" fill="#000096"/><circle cx="230.25" cy="259.7" r="2.8" fill="url(#bg)"/>
<circle cx="288.9" cy="259.4" r="4.85" fill="#000096"/><circle cx="287.45" cy="258" r="2.8" fill="url(#bg)"/>
<circle cx="340.7" cy="264.3" r="4.85" fill="#000096"/><circle cx="339.25" cy="262.9" r="2.8" fill="url(#bg)"/>
<circle cx="388.6" cy="271.8" r="4.85" fill="#000096"/><circle cx="387.15" cy="270.4" r="2.8" fill="url(#bg)"/>
<circle cx="431.6" cy="280.8" r="4.85" fill="#000096"/><circle cx="430.15" cy="279.4" r="2.8" fill="url(#bg)"/>
<circle cx="470.1" cy="289.9" r="4.85" fill="#000096"/><circle cx="468.65" cy="288.5" r="2.8" fill="url(#bg)"/>
<circle cx="183" cy="524.1" r="4.85" fill="#000096"/><circle cx="181.55" cy="522.7" r="2.8" fill="url(#bg)"/>
<circle cx="243" cy="513.3" r="4.85" fill="#000096"/><circle cx="241.55" cy="511.9" r="2.8" fill="url(#bg)"/>
<circle cx="298.9" cy="501.9" r="4.85" fill="#000096"/><circle cx="297.45" cy="500.5" r="2.8" fill="url(#bg)"/>
<circle cx="350.7" cy="490.5" r="4.85" fill="#000096"/><circle cx="349.25" cy="489.1" r="2.8" fill="url(#bg)"/>
<circle cx="397" cy="479.2" r="4.85" fill="#000096"/><circle cx="395.55" cy="477.8" r="2.8" fill="url(#bg)"/>
<circle cx="438.5" cy="468.1" r="4.85" fill="#000096"/><circle cx="437.05" cy="466.7" r="2.8" fill="url(#bg)"/>
<circle cx="476.6" cy="456.8" r="4.85" fill="#000096"/><circle cx="475.15" cy="455.4" r="2.8" fill="url(#bg)"/>
<path d="M93.2 183.85L93.2 553.05M93.2 184.5L485 184.5M93.2 552.4L485 552.4" stroke="#000" stroke-width="1.2" fill="none"/>
<path d="M93.2 536L86.6 536M93.2 502.53L89.2 502.53M93.2 469.06L86.6 469.06M93.2 435.59L89.2 435.59M93.2 402.12L86.6 402.12M93.2 368.65L89.2 368.65M93.2 335.18L86.6 335.18M93.2 301.71L89.2 301.71M93.2 268.24L86.6 268.24M93.2 234.77L89.2 234.77M93.2 201.3L86.6 201.3M118.1 552.4L118.1 559.7M167.85 552.4L167.85 556.5M217.6 552.4L217.6 559.7M267.35 552.4L267.35 556.5M317.1 552.4L317.1 559.7M366.85 552.4L366.85 556.5M416.6 552.4L416.6 559.7M466.35 552.4L466.35 556.5" stroke="#000" stroke-width="1.3" fill="none"/>
<text transform="translate(82.6,543.8) scale(1,1.1)" font-family="Liberation Serif, serif" font-size="23.8" text-anchor="end">0.0</text>
<text transform="translate(82.6,476.75) scale(1,1.1)" font-family="Liberation Serif, serif" font-size="23.8" text-anchor="end">0.2</text>
<text transform="translate(82.6,409.7) scale(1,1.1)" font-family="Liberation Serif, serif" font-size="23.8" text-anchor="end">0.4</text>
<text transform="translate(82.6,342.65) scale(1,1.1)" font-family="Liberation Serif, serif" font-size="23.8" text-anchor="end">0.6</text>
<text transform="translate(82.6,275.6) scale(1,1.1)" font-family="Liberation Serif, serif" font-size="23.8" text-anchor="end">0.8</text>
<text transform="translate(82.6,208.55) scale(1,1.1)" font-family="Liberation Serif, serif" font-size="23.8" text-anchor="end">1.0</text>
<text transform="translate(118.3,582.5) scale(1,1.075)" font-family="Liberation Serif, serif" font-size="23.9" text-anchor="middle">0.0</text>
<text transform="translate(217.8,582.5) scale(1,1.075)" font-family="Liberation Serif, serif" font-size="23.9" text-anchor="middle">0.2</text>
<text transform="translate(317.3,582.5) scale(1,1.075)" font-family="Liberation Serif, serif" font-size="23.9" text-anchor="middle">0.4</text>
<text transform="translate(416.8,582.5) scale(1,1.075)" font-family="Liberation Serif, serif" font-size="23.9" text-anchor="middle">0.6</text>
<text x="336" y="616.4" font-family="Liberation Serif, serif" font-size="29.5" font-style="italic">P</text><text x="354" y="616.4" font-family="Liberation Serif, serif" font-size="29.5">/</text><text x="361.2" y="616.4" font-family="Liberation Serif, serif" font-size="29.5" font-style="italic">P</text><text x="373.7" y="621.9" font-family="Liberation Serif, serif" font-size="21.5">max</text>
<g transform="translate(33.6,405.5) rotate(-90)"><text transform="translate(-1.4,0) scale(1.18,1)" font-family="Liberation Serif, serif" font-size="33" font-style="italic">η</text><text x="23.3" y="0" font-family="Liberation Serif, serif" font-size="33">/</text><text transform="translate(34.4,0) scale(1.18,1)" font-family="Liberation Serif, serif" font-size="33" font-style="italic">η</text><text x="49.8" y="13.1" font-family="Liberation Serif, serif" font-size="24" font-style="italic">C</text></g>
<g transform="translate(195,295.6) rotate(-11.7)" fill="#0000a0"><text transform="skewX(-8)" font-family="Liberation Serif, serif" font-size="22.8" font-style="italic">L</text><text x="12.68" y="0" font-family="Liberation Serif, serif" font-size="22.8" word-spacing="-0.7" xml:space="preserve"> = 3200</text></g>
<g transform="translate(238.8,330.8) rotate(-16.3)" fill="#ff0000"><text transform="skewX(-8)" font-family="Liberation Serif, serif" font-size="22.8" font-style="italic">L</text><text x="12.68" y="0" font-family="Liberation Serif, serif" font-size="22.8" word-spacing="-0.7" xml:space="preserve"> = 800</text></g>
<g transform="translate(273.5,372.9) rotate(-15.9)" fill="#0000ff"><text transform="skewX(-8)" font-family="Liberation Serif, serif" font-size="22.8" font-style="italic">L</text><text x="12.68" y="0" font-family="Liberation Serif, serif" font-size="22.8" word-spacing="-0.7" xml:space="preserve"> = 200</text></g>
<g transform="translate(314.6,423.3) rotate(-12.7)" fill="#ff8000"><text transform="skewX(-8)" font-family="Liberation Serif, serif" font-size="22.8" font-style="italic">L</text><text x="12.68" y="0" font-family="Liberation Serif, serif" font-size="22.8" word-spacing="-0.7" xml:space="preserve"> = 50</text></g>
</svg>
</body></html>
